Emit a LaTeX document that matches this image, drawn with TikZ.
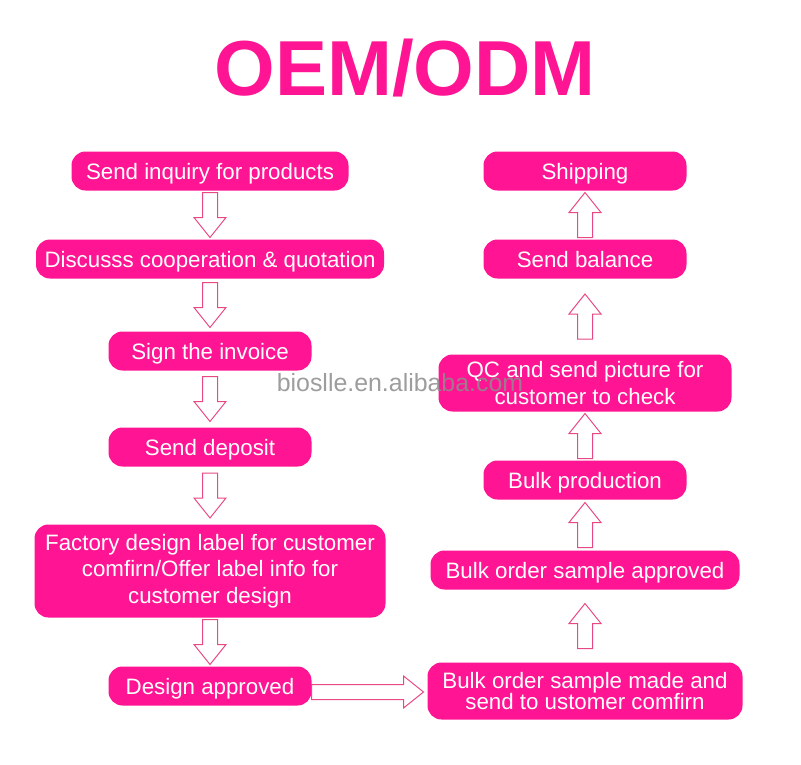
\documentclass[tikz,border=0pt]{standalone}
\usepackage{fontspec}
\setmainfont{Liberation Sans}
\usetikzlibrary{calc}

\definecolor{rose}{RGB}{255,20,147}
\definecolor{roseline}{RGB}{232,72,132}

\tikzset{
  etape/.style={fill=rose, text=white, rounded corners=14pt, align=center,
    inner sep=0pt, minimum height=39pt, font=\fontsize{22.3}{26.5}\selectfont},
  etapeligne/.style={etape, text height=16pt, text depth=0pt},
  fleche/.style={draw=roseline, fill=white, line width=1pt, line join=miter}
}

% fleche creuse, longueur #1, centree entre #2 et #3
\newcommand{\flechebloc}[3][45pt]{%
  \coordinate (fM) at ($(#2)!0.5!(#3)$);
  \coordinate (fP) at ($(fM)!{0.5*#1}!(#2)$);
  \coordinate (fQ) at ($(fM)!{0.5*#1}!(#3)$);
  \coordinate (fH) at ($(fQ)!20pt!(fP)$);
  \draw[fleche] ($(fP)!7.5pt!90:(fQ)$) -- ($(fH)!7.5pt!90:(fQ)$)
    -- ($(fH)!16pt!90:(fQ)$) -- (fQ) -- ($(fH)!16pt!-90:(fQ)$)
    -- ($(fH)!7.5pt!-90:(fQ)$) -- ($(fP)!7.5pt!-90:(fQ)$) -- cycle;}

\begin{document}
\begin{tikzpicture}[x=1pt,y=-1pt]

% Fond
\fill[white] (0,0) rectangle (801,764);
\useasboundingbox (0,0) rectangle (801,764);

% Titre
\node[text=rose, font=\fontsize{78}{78}\selectfont\bfseries] (titre) at (405,68) {OEM/ODM};

% Colonne gauche
\node[etapeligne, minimum width=277pt] (inquiry) at (210,171) {Send inquiry for products};
\node[etapeligne, minimum width=348pt] (discuss) at (210,259) {Discusss cooperation \& quotation};
\node[etapeligne, minimum width=203pt] (invoice) at (210,351) {Sign the invoice};
\node[etapeligne, minimum width=203pt] (deposit) at (210,447) {Send deposit};
\node[etape, minimum width=351pt, minimum height=93pt] (label) at (210,571)
  {Factory design label for customer\\comfirn/Offer label info for\\customer design};
\node[etapeligne, minimum width=203pt] (design) at (210,686) {Design approved};

% Colonne droite
\node[etape, minimum width=315pt, minimum height=57pt,
  font=\fontsize{22.3}{21}\selectfont] (made) at (585,691)
  {Bulk order sample made and\\send to ustomer comfirn};
\node[etapeligne, minimum width=309pt] (approved) at (585,570) {Bulk order sample approved};
\node[etapeligne, minimum width=203pt] (bulk) at (585,480) {Bulk production};
\node[etape, minimum width=293pt, minimum height=57pt] (qc) at (585,383)
  {QC and send picture for\\customer to check};
\node[etapeligne, minimum width=203pt] (balance) at (585,259) {Send balance};
\node[etapeligne, minimum width=203pt] (shipping) at (585,171) {Shipping};

% Fleches
\flechebloc{inquiry.south}{discuss.north}
\flechebloc{discuss.south}{invoice.north}
\flechebloc{invoice.south}{deposit.north}
\flechebloc{deposit.south}{label.north}
\flechebloc{label.south}{design.north}
\flechebloc[112pt]{$(design.east)+(0,6)$}{$(design.east -| made.west)+(-4,6)$}
\flechebloc{made.north}{approved.south}
\flechebloc{approved.north}{bulk.south}
\flechebloc{bulk.north}{qc.south}
\flechebloc{qc.north}{balance.south}
\flechebloc{balance.north}{shipping.south}

% Filigrane
\node[text=black!45, opacity=0.85, font=\fontsize{24.9}{24.9}\selectfont] (filigrane) at (400,383)
  {bioslle.en.alibaba.com};

\end{tikzpicture}
\end{document}
